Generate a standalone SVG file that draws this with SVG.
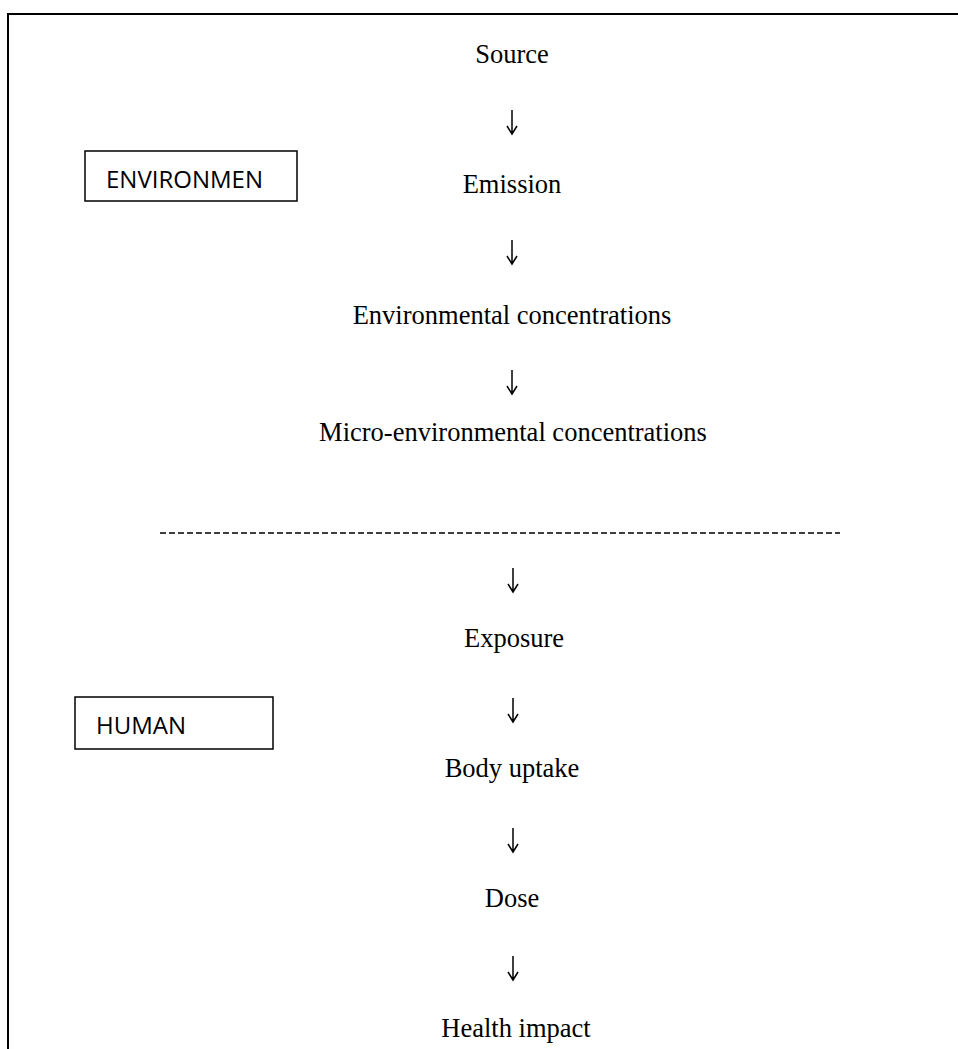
<svg xmlns="http://www.w3.org/2000/svg" width="958" height="1049" viewBox="0 0 958 1049">
<style>
.t{font-family:"Liberation Serif","Times New Roman",serif;font-size:26.5px;fill:#000;text-anchor:middle}
.lbl{font-family:"Open Sans","Liberation Sans",sans-serif;font-size:24px;fill:#000}
.box{fill:#fff;stroke:#000;stroke-width:1.5}
.arr{fill:none;stroke:#000;stroke-width:1.5}
</style>
<rect width="958" height="1049" fill="#fff"/>
<g id="frame" fill="none" stroke="#000">
<line x1="7" y1="14" x2="958" y2="14" stroke-width="2"/>
<line x1="8" y1="14" x2="8" y2="1049" stroke-width="2"/>
</g>
<g id="env-label"><rect class="box" x="85" y="151" width="212" height="50"/><text class="lbl" x="106" y="188">ENVIRONMEN</text></g>
<g id="human-label"><rect class="box" x="75" y="697" width="198" height="52"/><text class="lbl" x="96" y="734">HUMAN</text></g>
<g id="source"><text class="t" x="512" y="63">Source</text></g>
<g id="emission"><text class="t" x="512" y="193">Emission</text></g>
<g id="envconc"><text class="t" x="512" y="324">Environmental concentrations</text></g>
<g id="micro"><text class="t" x="513" y="441">Micro-environmental concentrations</text></g>
<g id="exposure"><text class="t" x="514" y="647">Exposure</text></g>
<g id="body"><text class="t" x="512" y="777">Body uptake</text></g>
<g id="dose"><text class="t" x="512" y="907">Dose</text></g>
<g id="health"><text class="t" x="516" y="1037">Health impact</text></g>
<g id="connectors">
<path class="arr" d="M512 110V134M507 126L512 134L517 126"/>
<path class="arr" d="M512 240V264M507 256L512 264L517 256"/>
<path class="arr" d="M512 370V394M507 386L512 394L517 386"/>
<line x1="160" y1="533" x2="840" y2="533" stroke="#000" stroke-width="1.5" stroke-dasharray="6 3"/>
<path class="arr" d="M513 568V592M508 584L513 592L518 584"/>
<path class="arr" d="M513 698V722M508 714L513 722L518 714"/>
<path class="arr" d="M513 828V852M508 844L513 852L518 844"/>
<path class="arr" d="M513 956V980M508 972L513 980L518 972"/>
</g>
</svg>
